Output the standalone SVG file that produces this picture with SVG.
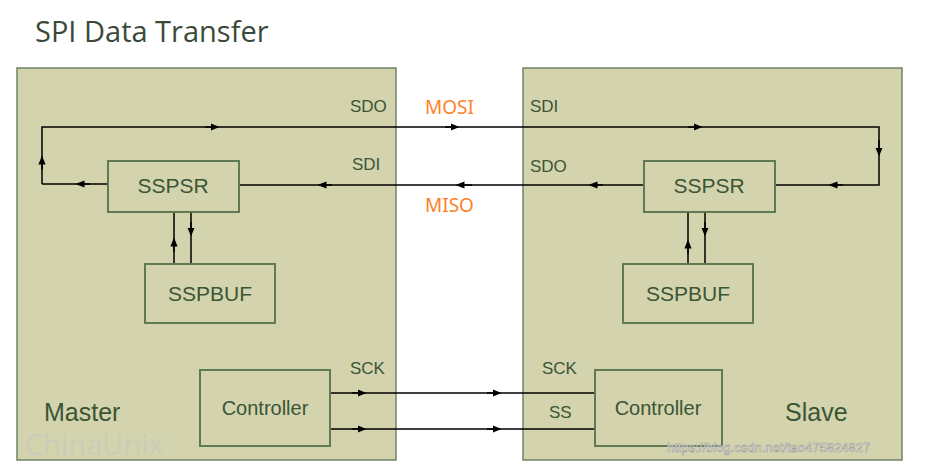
<svg xmlns="http://www.w3.org/2000/svg" width="925" height="466" viewBox="0 0 925 466">
<style>
.pan{fill:#d3d3ad;stroke:#6f8466;stroke-width:1.5}
.bx{fill:#d3d3ad;stroke:#5f7a55;stroke-width:2}
.t{font-family:"Liberation Sans",Arial,sans-serif;fill:#3b5535}
.w{fill:none;stroke:#000;stroke-width:1.5}
.o{font-family:"Noto Sans","Open Sans",sans-serif;fill:#ff7f27;font-size:19px}
</style>
<defs>
<marker id="a" viewBox="0 0 10 10" refX="5" refY="5" markerWidth="9" markerHeight="9" orient="auto" markerUnits="userSpaceOnUse"><path d="M0,1 L10,5 L0,9z" fill="#000"/></marker>
</defs>
<rect width="925" height="466" fill="#fff"/>
<text x="35" y="42" font-family="'Open Sans','Noto Sans',sans-serif" font-size="29" fill="#3a4a3a">SPI Data Transfer</text>
<g id="master"><rect class="pan" x="17" y="68" width="379" height="392"/><text class="t" x="44" y="421" font-size="25">Master</text></g>
<g id="slave"><rect class="pan" x="523" y="68" width="379" height="392"/><text class="t" x="785" y="421" font-size="25">Slave</text></g>
<g id="connectors">
<path class="w" d="M42,184 V127 H879 V185 H775"/>
<path class="w" d="M107,184 H42"/>
<path class="w" d="M644,185 H239"/>
<path class="w" d="M174,264 V212 M191,212 V264 M688,264 V212 M705,212 V264"/>
<path class="w" d="M330,393 H595 M330,429 H595"/>
<g class="w" marker-end="url(#a)">
<path d="M205,127 H215"/><path d="M445,127 H455"/><path d="M688,127 H698"/>
<path d="M879,140 V152"/><path d="M843,185 H833"/><path d="M603,185 H593"/>
<path d="M472,185 H460"/><path d="M332,185 H322"/><path d="M90,184 H80"/><path d="M42,170 V160"/>
<path d="M174,252 V242"/><path d="M191,222 V232"/><path d="M688,254 V244"/><path d="M705,222 V232"/>
<path d="M352,393 H362"/><path d="M487,393 H497"/><path d="M352,429 H362"/><path d="M487,429 H497"/>
</g>
</g>
<g id="m-sspsr"><rect class="bx" x="108" y="161" width="131" height="51"/><text class="t" x="173" y="193" font-size="21" text-anchor="middle">SSPSR</text></g>
<g id="m-sspbuf"><rect class="bx" x="145" y="264" width="130" height="59"/><text class="t" x="210" y="301" font-size="21" text-anchor="middle">SSPBUF</text></g>
<g id="s-sspsr"><rect class="bx" x="644" y="161" width="131" height="51"/><text class="t" x="709" y="193" font-size="21" text-anchor="middle">SSPSR</text></g>
<g id="s-sspbuf"><rect class="bx" x="623" y="264" width="130" height="59"/><text class="t" x="688" y="301" font-size="21" text-anchor="middle">SSPBUF</text></g>
<g id="m-ctrl"><rect class="bx" x="200" y="370" width="130" height="76"/><text class="t" x="265" y="415" font-size="20" text-anchor="middle">Controller</text></g>
<g id="s-ctrl"><rect class="bx" x="595" y="370" width="127" height="76"/><text class="t" x="658" y="415" font-size="20" text-anchor="middle">Controller</text></g>
<g font-size="17">
<text class="t" x="350" y="112">SDO</text><text class="t" x="352" y="170">SDI</text>
<text class="t" x="530" y="112">SDI</text><text class="t" x="530" y="172">SDO</text>
<text class="t" x="350" y="374">SCK</text><text class="t" x="542" y="374">SCK</text><text class="t" x="549" y="418">SS</text>
</g>
<text class="o" x="425" y="114">MOSI</text>
<text class="o" x="425" y="212">MISO</text>
<text x="25" y="455" font-family="'Open Sans',sans-serif" font-size="29" fill="#c8c8c0" fill-opacity="0.7">ChinaUnix</text>
<text x="667" y="452" font-family="'Liberation Sans',sans-serif" font-size="13" fill="#fff" stroke="#999" stroke-width="0.6">https://blog.csdn.net/tao475824827</text>
</svg>
